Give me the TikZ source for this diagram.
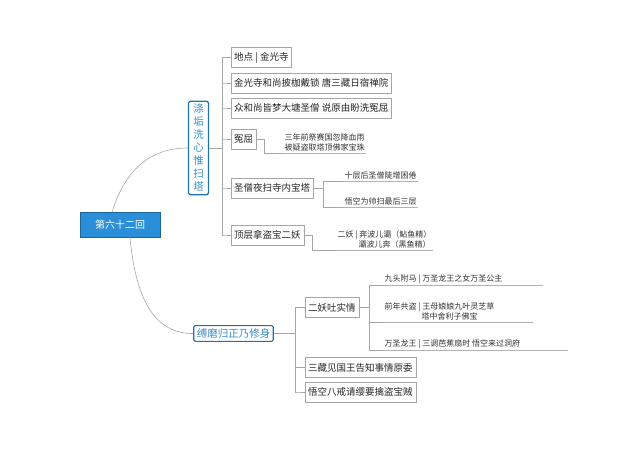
\documentclass[tikz,border=0pt]{standalone}
\usepackage{fontspec}
\setmainfont{Noto Sans CJK SC}
\begin{document}
\begin{tikzpicture}[x=1pt,y=-1pt,
  root/.style={fill=rootblue,draw=rootblue!70!black,text=white,font=\fontsize{10}{12}\selectfont,minimum width=80pt,minimum height=25pt,inner sep=2pt},
  branch/.style={draw=rootblue!80!black,line width=1.2pt,fill=white,text=branchtext,rounded corners=1.5pt,font=\fontsize{10.5}{13}\selectfont,inner sep=3pt},
  child/.style={draw=gray!70,fill=white,text=black!85,font=\fontsize{9.5}{11}\selectfont,inner sep=3pt,anchor=west,minimum height=20pt},
  leaf/.style={text=black!80,font=\fontsize{8}{10}\selectfont,inner sep=1.5pt,anchor=south west,align=left},
  conn/.style={draw=gray!70,line width=0.6pt},
  uline/.style={draw=gray!60,line width=0.6pt}]
\definecolor{rootblue}{HTML}{2A8FD8}
\definecolor{branchtext}{HTML}{3A8FC8}
\useasboundingbox (0,0) rectangle (640,450);
\fill[white] (0,0) rectangle (640,450);
% root and branches
\node[root] (root) at (120,225) {第六十二回};
\node[branch,align=center,text width=12pt,inner xsep=4pt] (b1) at (198.5,148) {涤\\垢\\洗\\心\\惟\\扫\\塔};
\node[branch] (b2) at (233.5,333.5) {缚磨归正乃修身};
\draw[conn] (root.north) ++(-8,0) coordinate (r1) .. controls (125,170) and (150,148) .. (b1.west);
\draw[conn] (root.south) ++(10,0) coordinate (r2) .. controls (135,290) and (150,334) .. (b2.west);
% branch1 children
\node[child] (c1) at (231,57.5) {地点 | 金光寺};
\node[child] (c2) at (231,83) {金光寺和尚披枷戴锁 唐三藏日宿禅院};
\node[child] (c3) at (231,108) {众和尚皆梦大塘圣僧 说原由盼洗冤屈};
\node[child] (c4) at (231,139) {冤屈};
\node[child] (c5) at (231,188) {圣僧夜扫寺内宝塔};
\node[child] (c6) at (231,235) {顶层拿盗宝二妖};
\coordinate (t1) at (222,148);
\draw[conn] (b1.east) -- (t1);
\foreach \c in {c1,c2,c3,c4,c5,c6}{
  \draw[conn] (t1) .. controls (222,148) and (222,148) .. (222,148) |- ([xshift=-8pt]\c.west) -- (\c.west);
}
% branch2 children
\node[child] (d1) at (305,307.5) {二妖吐实情};
\node[child] (d2) at (305,367.5) {三藏见国王告知事情原委};
\node[child] (d3) at (305,392) {悟空八戒请缨要擒盗宝贼};
\coordinate (t2) at (295,333.5);
\draw[conn] (b2.east) -- (t2);
\foreach \c in {d1,d2,d3}{
  \draw[conn] (t2) |- ([xshift=-8pt]\c.west) -- (\c.west);
}
% leaves of c4
\node[leaf,align=center] (l1) at (283,153) {三年前祭赛国忽降血雨\\被疑盗取塔顶佛家宝珠};
\draw[uline] (l1.south west) -- (l1.south east);
\draw[conn] (c4.east) -- ++(8,0) |- (l1.south west);
% leaves of c5
\node[leaf] (l2) at (343,181) {十层后圣僧陡增困倦};
\node[leaf] (l3) at (343,207) {悟空为帅扫最后三层};
\draw[uline] (l2.south west) -- (l2.south east);
\draw[uline] (l3.south west) -- (l3.south east);
\draw[conn] (c5.east) -- ++(10,0) coordinate (t5);
\draw[conn] (t5) |- (l2.south west);
\draw[conn] (t5) |- (l3.south west);
% leaf of c6
\node[leaf,align=center] (l4) at (336,250) {二妖 | 奔波儿灞（鲇鱼精）\\\hspace*{2.5em}灞波儿奔（黑鱼精）};
\draw[uline] (l4.south west) -- (l4.south east);
\draw[conn] (c6.east) -- ++(8,0) |- (l4.south west);
% leaves of d1
\node[leaf] (m1) at (383,285) {九头附马 | 万圣龙王之女万圣公主};
\node[leaf] (m2) at (383,322) {前年共盗 | 王母娘娘九叶灵芝草\\\hspace*{4.6em}塔中舍利子佛宝};
\node[leaf] (m3) at (383,350) {万圣龙王 | 三调芭蕉扇时 悟空来过洞府};
\draw[uline] (m1.south west) -- ++(160,0);
\draw[uline] (m2.south west) -- ++(150,0);
\draw[uline] (m3.south west) -- ++(185,0);
\draw[conn] (d1.east) -- ++(10,0) coordinate (t6);
\foreach \m in {m1,m2,m3}{ \draw[conn] (t6) |- (\m.south west); }
\end{tikzpicture}
\end{document}
